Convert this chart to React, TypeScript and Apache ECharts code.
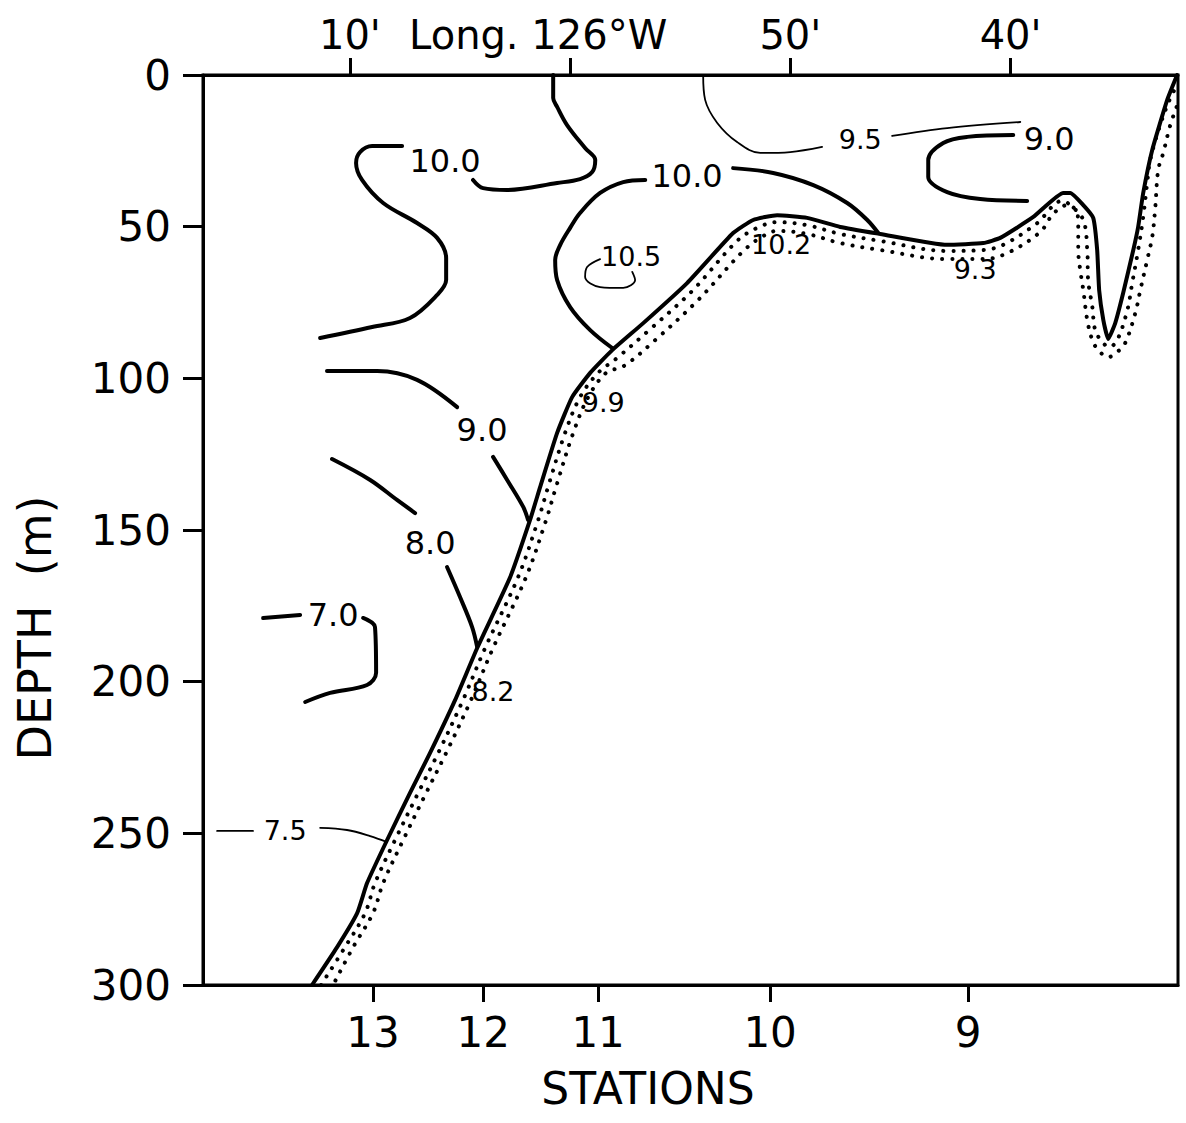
import React, { useEffect, useRef } from "react";
import * as echarts from "echarts";

// Longitude axis: minutes east of 126°W (negative = west)
const lonMin = -16.67;
const lonMax = 27.6;
const lonTickValues = [-10, 0, 10, 20];
const lonTickLabels = ["10'", "Long. 126°W", "50'", "40'"];

// Stations along the section (bottom axis)
const stationPos = [-8.95, -3.95, 1.27, 9.08, 18.07];
const stationNames = ["13", "12", "11", "10", "9"];

// Depth axis
const depthMin = 0;
const depthMax = 300;
const depthStep = 50;

// Isotherms [lon, depth]
const iso100Left = [[-7.63, 23.4], [-8.99, 23.4], [-9.54, 25.4], [-9.72, 29.0], [-9.45, 34.6], [-8.49, 42.2], [-6.95, 48.8], [-6.04, 53.7], [-5.63, 60.3], [-5.63, 67.6], [-6.04, 72.5], [-7.27, 80.1], [-8.99, 83.1], [-11.35, 86.7]];
const iso100Top = [[-0.77, 0], [-0.77, 7.6], [-0.59, 10.5], [-0.14, 16.5], [0.68, 24.1], [1.14, 28.0], [1.0, 32.0], [0.45, 34.3], [-0.59, 35.6], [-2.86, 37.9], [-3.95, 37.3], [-4.41, 34.6]];
const iso100LoopA = [[1.91, 90.0], [0.91, 84.1], [0, 76.5], [-0.59, 67.6], [-0.68, 61.0], [-0.45, 56.0], [0, 50.4], [0.45, 45.5], [1.36, 38.9], [2.41, 35.3], [3.41, 34.6]];
const iso100LoopB = [[7.40, 30.7], [9.22, 32.3], [11.04, 36.3], [12.58, 42.2], [13.49, 47.8], [13.99, 52.1]];
const iso105 = [[1.36, 60.7], [0.77, 63.3], [0.68, 66.6], [1.36, 69.9], [2.41, 70.2], [2.95, 67.6], [2.82, 64.9]];
const iso95A = [[6.04, 0], [6.13, 8.2], [6.68, 15.8], [7.58, 22.1], [8.63, 25.7], [9.99, 25.4], [11.44, 23.7]];
const iso95B = [[14.62, 20.1], [17.12, 17.5], [20.44, 15.5]];
const iso90Right = [[20.12, 19.8], [18.03, 20.4], [16.94, 22.4], [16.26, 28.0], [16.26, 33.6], [17.12, 38.6], [18.62, 40.9], [20.75, 41.5]];
const iso90MidA = [[-11.04, 97.6], [-8.76, 97.6], [-6.95, 100.5], [-5.13, 109.5]];
const iso90MidB = [[-3.50, 125.9], [-2.86, 133.5], [-2.13, 142.4], [-1.91, 146.7]];
const iso80A = [[-10.81, 126.6], [-9.08, 133.5], [-7.86, 140.1], [-7.04, 144.4]];
const iso80B = [[-5.59, 162.2], [-5.0, 172.1], [-4.45, 182.0], [-4.22, 188.6]];
const iso70A = [[-13.94, 179.0], [-12.26, 178.0]];
const iso70B = [[-9.40, 179.0], [-8.86, 182.0], [-8.81, 197.1], [-9.22, 201.1], [-10.90, 203.7], [-12.03, 206.7]];
const iso75A = [[-16.03, 249.2], [-14.40, 249.2]];
const iso75B = [[-11.35, 248.2], [-10.13, 248.9], [-9.08, 250.9], [-8.31, 252.9]];

// Sea floor profile
const seafloor = [[-11.72, 300], [-10.58, 287.5], [-9.67, 276.3], [-9.22, 266.4], [-8.31, 252.2], [-7.27, 236.7], [-6.36, 223.5], [-5.22, 206.0], [-4.22, 188.9], [-2.72, 165.5], [-1.82, 146.7], [-1.36, 135.8], [-0.59, 118.0], [0.09, 106.2], [0.91, 98.2], [1.91, 90.7], [3.32, 81.8], [5.31, 68.6], [7.40, 52.1], [8.31, 47.8], [9.40, 46.2], [10.76, 47.1], [12.26, 50.1], [14.08, 52.4], [17.12, 56.0], [18.76, 55.4], [19.53, 53.7], [21.03, 46.8], [22.39, 38.9], [22.71, 38.9], [23.30, 42.9], [23.75, 47.1], [23.93, 57.7], [24.02, 70.9], [24.21, 80.8], [24.43, 87.0], [24.75, 81.8], [25.11, 71.9], [25.57, 57.7], [25.79, 50.1], [26.02, 38.9], [26.43, 24.7], [27.11, 8.2], [27.56, 0]];
// Stippled sediment band below the floor (two rows of dots)
const stippleInner = [[-11.31, 300], [-10.22, 287.5], [-9.31, 276.3], [-8.86, 266.4], [-7.95, 252.2], [-6.90, 236.7], [-5.99, 223.5], [-4.86, 206.0], [-3.86, 188.9], [-2.36, 165.5], [-1.45, 146.7], [-1.00, 135.8], [-0.23, 118.0], [0.45, 106.2], [1.27, 98.2], [2.13, 93.3], [3.54, 84.4], [5.54, 71.2], [7.58, 54.7], [8.49, 50.4], [9.40, 48.5], [10.76, 49.5], [12.26, 52.4], [14.08, 54.7], [17.12, 58.0], [18.76, 57.7], [19.66, 56.0], [21.16, 49.1], [22.34, 41.5], [22.71, 42.9], [23.30, 47.8], [23.48, 57.7], [23.52, 67.6], [23.71, 76.5], [23.84, 84.1], [24.16, 88.0], [24.48, 89.7], [24.84, 87.4], [25.30, 77.5], [25.52, 68.6], [25.79, 57.7], [26.02, 46.8], [26.20, 35.6], [26.34, 28.0], [26.79, 16.5], [27.25, 7.6], [27.57, 3.3]];
const stippleOuter = [[-10.76, 300], [-9.85, 287.5], [-8.95, 276.3], [-8.49, 266.4], [-7.58, 252.2], [-6.54, 236.7], [-5.63, 223.5], [-4.50, 206.0], [-3.50, 188.9], [-2.00, 165.5], [-1.09, 146.7], [-0.64, 135.8], [0.14, 118.0], [0.82, 106.2], [1.63, 98.2], [2.45, 95.9], [3.86, 87.4], [5.81, 74.2], [7.81, 58.4], [8.63, 53.7], [9.40, 51.4], [10.76, 52.4], [12.26, 55.4], [14.08, 57.7], [17.12, 60.7], [18.76, 60.7], [19.85, 58.7], [21.34, 51.8], [21.93, 45.8], [22.57, 42.9], [23.02, 45.2], [23.07, 50.1], [23.07, 57.7], [23.16, 64.3], [23.30, 70.9], [23.48, 80.8], [23.71, 87.4], [23.98, 90.7], [24.43, 93.0], [24.84, 91.3], [25.20, 88.4], [25.66, 78.5], [25.89, 70.9], [26.20, 61.0], [26.43, 53.4], [26.57, 43.5], [26.70, 31.3], [26.93, 25.7], [27.25, 16.5], [27.57, 9.9]];

// Contour labels [lon, depth, text]
const bigLabels: [number, number, string][] = [
  [-5.68, 28.4, "10.0"],
  [5.31, 33.3, "10.0"],
  [21.75, 21.1, "9.0"],
  [-4.0, 117.0, "9.0"],
  [-6.36, 154.3, "8.0"],
  [-10.76, 178.0, "7.0"],
];
const smallLabels: [number, number, string][] = [
  [2.77, 59.7, "10.5"],
  [13.17, 21.4, "9.5"],
  [-12.94, 249.2, "7.5"],
  [1.5, 108.1, "9.9"],
  [-3.5, 203.4, "8.2"],
  [9.58, 56.0, "10.2"],
  [18.39, 64.0, "9.3"],
];

const FONT = "DejaVu Sans";
const INK = "#000";

function lineSeries(data: number[][], width: number, z = 3, extra: any = {}) {
  return {
    type: "line",
    xAxisIndex: 0,
    yAxisIndex: 0,
    data,
    symbol: "none",
    showSymbol: false,
    smooth: 0.35,
    silent: true,
    z,
    lineStyle: { color: INK, width, cap: "round", join: "round", ...extra },
  };
}

function labelSeries(items: [number, number, string][], size: number) {
  return {
    type: "scatter",
    xAxisIndex: 0,
    yAxisIndex: 0,
    symbol: "circle",
    symbolSize: 1,
    silent: true,
    z: 6,
    itemStyle: { color: "rgba(255,255,255,0)", opacity: 1 },
    data: items.map((d) => ({ name: d[2], value: [d[0], d[1]] })),
    label: {
      show: true,
      position: "inside",
      formatter: "{b}",
      fontFamily: FONT,
      fontSize: size,
      color: INK,
      opacity: 1,
    },
  };
}

export default function App() {
  const ref = useRef<HTMLDivElement>(null);
  useEffect(() => {
    document.body.style.margin = "0";
    if (!ref.current) return;
    const chart = echarts.init(ref.current, undefined, { renderer: "svg" });
    const option: any = {
      animation: false,
      backgroundColor: "#ffffff",
      grid: {
        left: 203,
        right: 8,
        top: 75,
        bottom: 138,
        show: true,
        borderColor: INK,
        borderWidth: 3,
      },
      xAxis: [
        {
          type: "value",
          position: "top",
          min: lonMin,
          max: lonMax,
          splitLine: { show: false },
          axisLine: { show: true, onZero: false, lineStyle: { color: INK, width: 3 } },
          axisTick: {
            show: true,
            length: 17,
            customValues: lonTickValues,
            lineStyle: { color: INK, width: 3 },
          },
          axisLabel: {
            customValues: lonTickValues,
            margin: 20,
            fontFamily: FONT,
            fontSize: 40,
            color: INK,
            formatter: (v: number) => {
              const i = lonTickValues.findIndex((t) => Math.abs(t - v) < 1e-6);
              if (i < 0) return "";
              if (lonTickValues[i] === 0) return "{lng|" + lonTickLabels[i] + "}";
              return lonTickLabels[i];
            },
            rich: {
              lng: {
                fontFamily: FONT,
                fontSize: 40,
                color: INK,
                padding: [0, 64, 0, 0],
              },
            },
          },
        },
        {
          type: "value",
          position: "bottom",
          min: lonMin,
          max: lonMax,
          splitLine: { show: false },
          axisLine: { show: true, onZero: false, lineStyle: { color: INK, width: 3 } },
          axisTick: {
            show: true,
            length: 17,
            customValues: stationPos,
            lineStyle: { color: INK, width: 3 },
          },
          axisLabel: {
            customValues: stationPos,
            margin: 26,
            fontFamily: FONT,
            fontSize: 42,
            color: INK,
            formatter: (v: number) => {
              const i = stationPos.findIndex((t) => Math.abs(t - v) < 1e-6);
              return i < 0 ? "" : stationNames[i];
            },
          },
        },
      ],
      yAxis: [
        {
          type: "value",
          inverse: true,
          min: depthMin,
          max: depthMax,
          interval: depthStep,
          splitLine: { show: false },
          axisLine: { show: true, onZero: false, lineStyle: { color: INK, width: 3 } },
          axisTick: { show: true, length: 20, lineStyle: { color: INK, width: 3 } },
          axisLabel: {
            margin: 32,
            fontFamily: FONT,
            fontSize: 42,
            color: INK,
          },
        },
      ],
      graphic: [
        {
          type: "text",
          x: 648,
          y: 1088,
          style: {
            text: "STATIONS",
            fontFamily: FONT,
            fontSize: 44,
            fill: INK,
            align: "center",
            verticalAlign: "middle",
          },
        },
        {
          type: "text",
          x: 35,
          y: 628,
          rotation: Math.PI / 2,
          style: {
            text: "DEPTH  (m)",
            fontFamily: FONT,
            fontSize: 46,
            fill: INK,
            align: "center",
            verticalAlign: "middle",
          },
        },
      ],
      series: [
        lineSeries(stippleInner, 4, 2, { type: [0.1, 10], cap: "round" }),
        lineSeries(stippleOuter, 4, 2, { type: [0.1, 10], dashOffset: 5, cap: "round" }),
        { ...lineSeries(seafloor, 4, 4), smooth: 0.15 },
        lineSeries(iso100Left, 4),
        lineSeries(iso100Top, 4),
        lineSeries(iso100LoopA, 4),
        lineSeries(iso100LoopB, 4),
        lineSeries(iso105, 1.8),
        lineSeries(iso95A, 1.8),
        lineSeries(iso95B, 1.8),
        lineSeries(iso90Right, 4),
        lineSeries(iso90MidA, 4),
        lineSeries(iso90MidB, 4),
        lineSeries(iso80A, 4),
        lineSeries(iso80B, 4),
        lineSeries(iso70A, 4),
        lineSeries(iso70B, 4),
        lineSeries(iso75A, 1.8),
        lineSeries(iso75B, 1.8),
        labelSeries(bigLabels, 32),
        labelSeries(smallLabels, 27),
      ],
    };
    chart.setOption(option);
    return () => chart.dispose();
  }, []);
  return <div ref={ref} style={{ width: 1186, height: 1123 }} />;
}
